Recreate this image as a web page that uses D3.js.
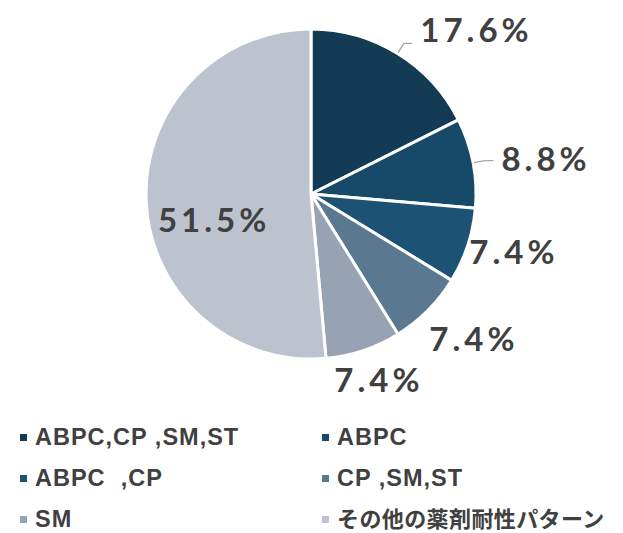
<!DOCTYPE html>
<html>
<head>
<meta charset="utf-8">
<script src="https://cdn.jsdelivr.net/npm/d3@7"></script>
<style>
  body { margin: 0; background: #ffffff; }
  .pctLabel { font-family: Lato, "DejaVu Sans", sans-serif; font-weight: bold;
              font-size: 33px; letter-spacing: 4px; fill: #404040; }
  .legendText { font-family: "Liberation Sans", Arial, "Noto Sans CJK JP", sans-serif;
                font-weight: bold; font-size: 23.5px; letter-spacing: 1px; fill: #404040; }
  .legendText.jp { font-family: "Noto Sans CJK JP", sans-serif; font-size: 22px; letter-spacing: 0.4px; }
</style>
</head>
<body>
<script>
// chart data
var categories = ["ABPC,CP ,SM,ST", "ABPC", "ABPC\u00a0\u00a0,CP", "CP ,SM,ST", "SM", "その他の薬剤耐性パターン"];
var values = [17.6, 8.8, 7.4, 7.4, 7.4, 51.5];
var labels = ["17.6%", "8.8%", "7.4%", "7.4%", "7.4%", "51.5%"];
var colors = ["#133b54", "#174a68", "#1c5374", "#5a7890", "#97a3b2", "#bcc3ce"];

// size of svg
var fullWidth = 623;
var fullHeight = 533;

// pie position and radius
var cx = 311, cy = 194, radius = 165;

// label placement: radius and small nudges per slice
var labelRadius = 220;
var labelNudge = [[50, 22], [19, 6], [-6, -12], [7, -11], [-2, -24], [3, 20]];

var svg = d3.select("body")
            .append("svg")
            .attr("width", fullWidth)
            .attr("height", fullHeight);

var data = categories.map(function(c, i) {
    return {name: c, value: values[i], label: labels[i], color: colors[i]};
});

var pie = d3.pie()
            .sort(null)
            .value(function(d) { return d.value; });

var arc = d3.arc().innerRadius(0).outerRadius(radius);

var arcs = pie(data);

var g = svg.append("g")
           .attr("transform", "translate(" + cx + "," + cy + ")");

// draw slices
g.selectAll("path")
 .data(arcs)
 .enter()
 .append("path")
 .attr("d", arc)
 .style("fill", function(d) { return d.data.color; })
 .style("stroke", "#ffffff")
 .style("stroke-width", 3)
 .style("stroke-linejoin", "round");

function midAngle(d) { return (d.startAngle + d.endAngle) / 2; }
function polar(a, r) { return [r * Math.sin(a), -r * Math.cos(a)]; }

// label positions
function labelPos(d, i) {
    var r = i === arcs.length - 1 ? 100 : labelRadius;
    var p = polar(midAngle(d), r);
    return [p[0] + labelNudge[i][0], p[1] + labelNudge[i][1]];
}

var texts = g.selectAll(".pctLabel")
             .data(arcs)
             .enter()
             .append("text")
             .attr("class", "pctLabel")
             .attr("text-anchor", "middle")
             .attr("dominant-baseline", "central")
             .attr("x", function(d, i) { return labelPos(d, i)[0]; })
             .attr("y", function(d, i) { return labelPos(d, i)[1]; })
             .text(function(d) { return d.data.label; });

// leader lines for the first two slices
texts.each(function(d, i) {
    if (i > 1) return;
    var box = this.getBBox();
    var a = midAngle(d);
    var p0 = polar(a, radius + 1);
    var p1 = polar(a, radius + 12);
    var yLine = p1[1];
    g.append("polyline")
     .attr("points", [p0, p1, [box.x - 8, yLine]].map(function(p) { return p.join(","); }).join(" "))
     .style("fill", "none")
     .style("stroke", "#a6a6a6")
     .style("stroke-width", 1.3);
});

// legend, two columns
var legend = svg.selectAll(".legend")
                .data(data)
                .enter()
                .append("g")
                .attr("class", "legend")
                .attr("transform", function(d, i) {
                    return "translate(" + (i % 2 === 0 ? 20 : 322) + "," + (437 + Math.floor(i / 2) * 41) + ")";
                });

legend.append("rect")
      .attr("x", 0)
      .attr("y", -3)
      .attr("width", 7)
      .attr("height", 7)
      .style("fill", function(d) { return d.color; });

// the japanese label sits a bit higher so its box stays inside the page
legend.append("text")
      .attr("class", function(d, i) { return i === data.length - 1 ? "legendText jp" : "legendText"; })
      .attr("x", 15)
      .attr("y", function(d, i) { return i === data.length - 1 ? -2 : 0; })
      .attr("dominant-baseline", "central")
      .text(function(d) { return d.name; });
</script>
</body>
</html>
